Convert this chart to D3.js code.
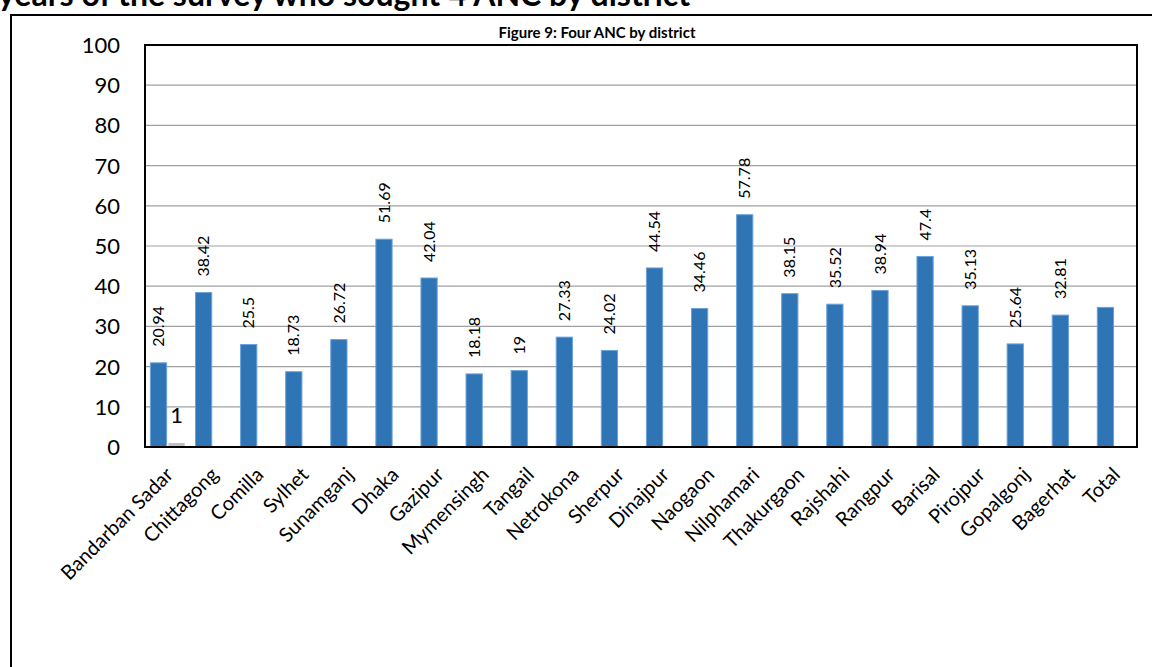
<!DOCTYPE html>
<html>
<head>
<meta charset="utf-8">
<script src="https://cdn.jsdelivr.net/npm/d3@7"></script>
<style>
  body { margin: 0; background: #fff; overflow: hidden; }
  text { font-family: Lato, "Liberation Sans", sans-serif; fill: #000; }
</style>
</head>
<body>
<main></main>
<script>
var districts = ["Bandarban Sadar", "Chittagong", "Comilla", "Sylhet", "Sunamganj", "Dhaka",
  "Gazipur", "Mymensingh", "Tangail", "Netrokona", "Sherpur", "Dinajpur", "Naogaon",
  "Nilphamari", "Thakurgaon", "Rajshahi", "Rangpur", "Barisal", "Pirojpur", "Gopalgonj",
  "Bagerhat", "Total"];
var fourAnc = [20.94, 38.42, 25.5, 18.73, 26.72, 51.69, 42.04, 18.18, 19, 27.33, 24.02,
  44.54, 34.46, 57.78, 38.15, 35.52, 38.94, 47.4, 35.13, 25.64, 32.81, 34.73];
// the second series only has a value for the first district
var series2 = [1, null, null, null, null, null, null, null, null, null, null,
  null, null, null, null, null, null, null, null, null, null, null];
// "Total" has no data label in the original
var showLabel = districts.map(function(d) { return d != "Total"; });
var yTicks = [0, 10, 20, 30, 40, 50, 60, 70, 80, 90, 100];

var w = 1152, h = 667;
var margin = { top: 45, bottom: 220, left: 145, right: 15 };

var svg = d3.select("main")
            .append("svg")
            .attr("width", w)
            .attr("height", h);

// heading of the page above the chart, cut off at the top
svg.append("text")
   .attr("x", -2)
   .attr("y", 6)
   .attr("font-size", "32px")
   .attr("font-weight", "bold")
   .text("years of the survey who sought 4 ANC by district");

// outer chart box (right and bottom run off the page)
svg.append("rect")
   .attr("x", 11)
   .attr("y", 15)
   .attr("width", 1200)
   .attr("height", 700)
   .attr("fill", "#fff")
   .attr("stroke", "#000")
   .attr("stroke-width", 2);

var x = d3.scaleBand()
          .domain(districts)
          .range([margin.left, w - margin.right])
          .paddingInner(0)
          .paddingOuter(0);
var sub = d3.scaleBand()
            .domain(["s1", "s2"])
            .range([0, x.bandwidth()])
            .paddingInner(0.1)
            .paddingOuter(0.3);
var y = d3.scaleLinear()
          .domain([0, 100])
          .range([447, margin.top]);

svg.append("text")
   .attr("x", 597)
   .attr("y", 38)
   .attr("text-anchor", "middle")
   .attr("font-size", "15px")
   .attr("font-weight", "bold")
   .text("Figure 9: Four ANC by district");

// gridlines
svg.append("g")
   .selectAll("line")
   .data(yTicks.slice(1, -1))
   .enter()
   .append("line")
   .attr("x1", x.range()[0])
   .attr("x2", x.range()[1])
   .attr("y1", function(d) { return y(d); })
   .attr("y2", function(d) { return y(d); })
   .attr("stroke", "#a0a0a0")
   .attr("stroke-width", 1.2);

// y axis labels
svg.append("g")
   .selectAll("text")
   .data(yTicks)
   .enter()
   .append("text")
   .attr("x", 120)
   .attr("y", function(d) { return y(d); })
   .attr("dy", "0.36em")
   .attr("text-anchor", "end")
   .attr("font-size", "22px")
   .text(function(d) { return d; });

var bars = svg.append("g");
bars.selectAll("rect.s1")
    .data(fourAnc)
    .enter()
    .append("rect")
    .attr("class", "s1")
    .attr("x", function(d, i) { return x(districts[i]) + sub("s1"); })
    .attr("y", function(d) { return y(d); })
    .attr("width", sub.bandwidth())
    .attr("height", function(d) { return y(0) - y(d); })
    .attr("fill", "#2f74b5")
    .attr("stroke", "#6aa2dc")
    .attr("stroke-width", 1);

bars.selectAll("rect.s2")
    .data(series2)
    .enter()
    .filter(function(d) { return d != null; })
    .append("rect")
    .attr("class", "s2")
    .attr("x", function(d, i) { return x(districts[i]) + sub("s2"); })
    .attr("y", function(d) { return y(d); })
    .attr("width", sub.bandwidth())
    .attr("height", function(d) { return y(0) - y(d); })
    .attr("fill", "#c0c0c0");

// value labels
bars.selectAll("text.v1")
    .data(fourAnc)
    .enter()
    .filter(function(d, i) { return showLabel[i]; })
    .append("text")
    .attr("class", "v1")
    .attr("transform", function(d) {
      var i = fourAnc.indexOf(d);
      var cx = x(districts[i]) + sub("s1") + sub.bandwidth() / 2;
      return "translate(" + cx + "," + (y(d) - 16) + ") rotate(-90)";
    })
    .attr("dy", "0.35em")
    .attr("font-size", "16px")
    .text(function(d) { return d; });

bars.selectAll("text.v2")
    .data(series2)
    .enter()
    .filter(function(d) { return d != null; })
    .append("text")
    .attr("class", "v2")
    .attr("x", function(d, i) { return x(districts[i]) + sub("s2") + sub.bandwidth() / 2; })
    .attr("y", function(d) { return y(d) - 20; })
    .attr("text-anchor", "middle")
    .attr("font-size", "22px")
    .text(function(d) { return d; });

// axis line at 0 and plot border
svg.append("line")
   .attr("x1", x.range()[0])
   .attr("x2", x.range()[1])
   .attr("y1", y(0))
   .attr("y2", y(0))
   .attr("stroke", "#555")
   .attr("stroke-width", 2);
svg.append("rect")
   .attr("x", x.range()[0])
   .attr("y", y(100))
   .attr("width", x.range()[1] - x.range()[0])
   .attr("height", y(0) - y(100))
   .attr("fill", "none")
   .attr("stroke", "#000")
   .attr("stroke-width", 2);

// category labels at 45 degrees
svg.append("g")
   .selectAll("text")
   .data(districts)
   .enter()
   .append("text")
   .attr("transform", function(d) {
     return "translate(" + (x(d) + x.bandwidth() / 2 + 2) + "," + (y(0) + 24) + ") rotate(-45)";
   })
   .attr("text-anchor", "end")
   .attr("dy", "0.35em")
   .attr("font-size", "20px")
   .text(function(d) { return d; });
</script>
</body>
</html>
